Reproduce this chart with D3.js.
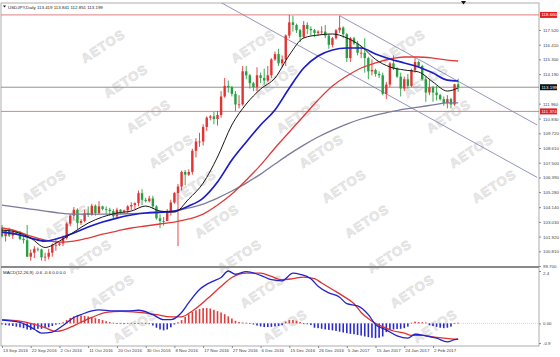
<!DOCTYPE html>
<html><head><meta charset="utf-8">
<script src="https://cdn.jsdelivr.net/npm/d3@7"></script>
<style>html,body{margin:0;padding:0;background:#fff;overflow:hidden}text{font-family:"Liberation Sans",Arial,sans-serif}</style>
</head><body><svg id="c" width="560" height="357"></svg>
<script>
// ---------- DATA ----------
const opens=[102.60,101.95,102.40,102.00,102.25,102.20,101.75,101.65,100.40,100.70,101.00,100.95,100.35,100.40,100.70,101.30,101.30,101.40,101.80,102.90,103.50,103.95,102.95,103.10,103.70,103.55,104.25,103.70,104.20,104.00,103.95,103.85,103.45,103.95,103.80,103.90,104.20,104.30,104.45,105.20,104.70,104.60,104.80,104.20,103.30,103.10,103.10,103.80,104.50,105.20,105.70,106.80,106.60,106.80,108.40,109.10,109.10,110.20,110.90,111.00,110.80,111.10,112.50,113.30,113.20,112.70,111.90,111.90,114.40,114.10,113.50,113.20,114.10,113.90,113.70,114.10,115.30,115.70,115.00,115.30,117.10,118.10,117.90,117.50,117.00,117.90,117.60,117.50,117.30,117.40,117.40,117.10,116.40,116.90,117.50,117.70,117.20,115.40,116.90,116.50,115.80,115.80,115.40,114.40,114.50,114.20,114.10,112.70,113.40,115.00,114.60,114.00,113.10,113.80,113.30,114.50,115.10,114.80,113.80,112.80,113.20,112.80,112.60,112.30,112.00,112.30,111.90,113.419];
const highs=[102.80,102.45,102.60,102.45,102.35,102.35,101.95,102.80,100.95,101.20,101.10,101.00,100.70,101.00,101.40,101.70,101.50,102.00,103.00,103.60,104.15,104.05,103.25,103.95,104.20,104.40,104.35,104.60,104.25,104.20,104.10,104.00,104.10,104.00,103.95,104.30,104.50,104.50,105.40,105.50,104.85,105.00,105.00,104.30,103.60,103.40,104.00,104.70,105.30,105.90,106.90,106.95,107.00,108.55,109.35,109.75,110.40,111.00,111.10,111.35,111.40,112.90,113.90,113.70,113.30,112.90,112.60,114.80,114.80,114.20,113.60,114.70,114.30,114.60,114.80,115.40,115.90,116.10,115.60,117.20,118.66,118.60,118.00,117.60,118.20,118.10,117.80,117.60,117.50,117.80,117.90,117.20,117.00,117.60,118.60,117.80,117.30,117.00,117.00,116.70,116.30,116.90,115.50,115.30,114.60,114.40,114.30,113.60,115.10,115.60,114.70,114.30,114.00,114.20,114.60,115.40,115.20,114.90,114.00,113.80,113.30,113.30,112.70,112.50,112.60,112.40,113.45,113.841];
const lows=[101.85,101.55,101.90,101.75,102.10,101.65,101.40,100.40,100.10,100.30,100.80,100.10,100.05,100.20,100.40,100.85,101.20,101.20,101.70,102.70,103.20,102.50,102.80,103.00,103.40,103.50,103.50,103.60,103.90,103.60,103.50,103.30,103.35,103.60,103.70,103.70,103.90,104.00,104.20,104.30,104.50,104.50,104.00,103.20,102.55,102.75,103.10,103.50,104.40,101.20,105.40,105.80,106.50,106.60,107.90,108.70,108.80,109.90,110.70,110.40,110.30,110.90,112.40,112.80,112.50,111.40,111.60,111.80,113.80,113.10,112.90,112.90,113.50,113.40,113.60,113.90,115.20,114.80,114.70,114.80,116.90,117.40,117.30,116.60,116.90,117.20,117.10,117.00,117.10,117.20,116.90,116.10,116.20,116.80,117.30,116.90,115.10,115.10,116.40,115.60,115.40,114.30,113.80,114.10,114.00,113.90,112.60,112.30,113.20,114.50,113.90,112.50,112.90,113.10,113.20,114.30,114.70,113.70,112.10,112.60,112.10,112.20,112.20,111.80,111.60,111.60,111.80,112.851];
const closes=[101.95,102.40,102.00,102.25,102.20,101.75,101.65,100.40,100.70,101.00,100.95,100.35,100.40,100.70,101.30,101.30,101.40,101.80,102.90,103.50,103.95,102.95,103.10,103.70,103.55,104.25,103.70,104.20,104.00,103.95,103.85,103.45,103.95,103.80,103.90,104.20,104.30,104.45,105.20,104.70,104.60,104.80,104.20,103.30,103.10,103.10,103.80,104.50,105.20,105.70,106.80,106.60,106.80,108.40,109.10,109.10,110.20,110.90,111.00,110.80,111.10,112.50,113.30,113.20,112.70,111.90,111.90,114.40,114.10,113.50,113.20,114.10,113.90,113.70,114.10,115.30,115.70,115.00,115.30,117.10,118.10,117.90,117.50,117.00,117.90,117.60,117.50,117.30,117.40,117.40,117.10,116.40,116.90,117.50,117.70,117.20,115.40,116.90,116.50,115.80,115.80,115.40,114.40,114.50,114.20,114.10,112.70,113.40,115.00,114.60,114.00,113.10,113.80,113.30,114.50,115.10,114.80,113.80,112.80,113.20,112.80,112.60,112.30,112.00,112.30,111.90,113.419,113.199];

// moving averages, read at these bar indices
const maIdx=[0,4,8,12,16,20,24,28,32,36,40,44,48,52,56,60,64,68,72,76,80,84,88,92,96,100,104,108,112,116,120,124,127];
const maFast=[102.41,102.26,101.81,101.10,101.58,102.26,102.94,103.40,103.70,103.85,104.23,103.85,103.77,104.76,105.96,107.93,110.35,111.93,113.06,113.89,115.63,116.92,117.14,117.22,116.92,116.30,115.30,114.73,114.50,114.35,113.59,112.91,113.14];
const maMid=[102.26,102.11,101.81,101.58,101.81,102.19,102.64,103.02,103.32,103.55,103.70,103.77,103.85,104.23,104.83,106.04,107.70,109.06,110.35,111.48,113.14,114.65,115.56,116.01,116.16,116.16,115.71,115.33,115.03,114.73,114.27,113.74,113.67];
const maSlow=[102.57,102.34,101.96,101.66,101.51,101.58,101.81,102.11,102.34,102.57,102.72,102.87,103.02,103.25,103.62,104.30,105.13,106.19,107.32,108.61,109.82,111.03,112.23,113.29,114.05,114.65,115.03,115.33,115.48,115.48,115.40,115.25,115.18];
const maLong=[104.30,104.15,104.00,103.85,103.70,103.62,103.62,103.62,103.62,103.66,103.70,103.74,103.85,104.08,104.38,104.83,105.36,105.96,106.64,107.40,108.15,108.83,109.44,109.96,110.42,110.80,111.10,111.33,111.55,111.70,111.86,112.01,112.01];

// MACD(12,26,9)
const macdIdx=[0,5,9,11,14,17,20,22,25,27,31,35,38,42,45,47,50,52,55,59,61,63,65,68,72,75,78,81,83,86,88,91,94,96,99,102,104,107,110,113,115,118,121,124,126,127];
const macdVals=[0.15,0.05,-0.27,-0.45,-0.4,-0.1,0.27,0.4,0.57,0.62,0.57,0.57,0.6,0.4,0.17,0.17,0.5,0.95,1.55,1.95,2.1,2.4,2.25,2.37,2.2,2.0,1.95,2.3,2.25,2.05,1.7,1.4,1.2,0.9,0.8,0.4,-0.05,-0.3,-0.57,-0.68,-0.5,-0.57,-0.68,-0.85,-0.75,-0.72];
const signalIdx=[0,5,9,12,15,18,22,25,29,33,38,43,47,50,53,57,61,64,68,72,75,78,81,84,87,89,92,95,98,100,103,106,109,112,114,117,120,123,126,127];
const signalVals=[0.17,0.1,-0.05,-0.2,-0.37,-0.25,0.05,0.27,0.5,0.55,0.5,0.4,0.3,0.3,0.57,1.1,1.7,2.1,2.3,2.3,2.15,2.0,2.05,2.12,2.05,1.85,1.55,1.25,0.9,0.5,0.1,-0.15,-0.35,-0.45,-0.55,-0.55,-0.62,-0.68,-0.72,-0.72];
const histVals=[-0.05,-0.08,-0.1,-0.12,-0.15,-0.18,-0.22,-0.28,-0.3,-0.28,-0.25,-0.25,-0.22,-0.18,-0.12,-0.06,-0.02,
0.05,0.15,0.25,0.32,0.38,0.36,0.34,0.32,0.28,0.24,0.2,0.15,0.1,0.06,0.03,
0.01,0.02,-0.01,0.02,0.03,0.01,0.02,0.03,0.02,-0.02,-0.1,-0.2,-0.28,-0.32,-0.28,-0.18,-0.05,
0.05,0.15,0.3,0.42,0.52,0.6,0.66,0.7,0.7,0.68,0.62,0.56,0.5,0.42,0.32,0.22,0.12,0.06,0.04,0.03,0.02,
-0.05,-0.1,-0.14,-0.17,-0.17,-0.16,-0.14,-0.12,-0.08,0.08,0.15,0.16,0.12,0.06,-0.02,-0.04,-0.08,
-0.2,-0.22,-0.25,-0.28,-0.3,-0.32,-0.35,-0.38,-0.42,-0.45,-0.48,-0.5,-0.53,-0.56,-0.6,-0.63,-0.66,-0.68,-0.66,
-0.6,-0.4,-0.3,-0.28,-0.26,-0.25,-0.22,-0.15,
0.03,0.08,0.06,0.05,0.04,-0.08,-0.12,-0.16,-0.2,-0.22,-0.2,-0.15,0.02,0.03];

// axis ticks
const priceTicks=[117.520,116.410,115.300,114.190,111.960,110.830,109.720,108.610,107.500,106.390,105.280,104.140,103.030,101.920,100.810,99.700];
const dateIdx=[0,8,16,24,32,40,48,56,64,72,80,88,96,104,112,120];
const dateLabels=["13 Sep 2016","22 Sep 2016","2 Oct 2016","11 Oct 2016","20 Oct 2016","30 Oct 2016","8 Nov 2016","17 Nov 2016","27 Nov 2016","6 Dec 2016","15 Dec 2016","26 Dec 2016","5 Jan 2017","15 Jan 2017","24 Jan 2017","2 Feb 2017"];
const macdTicks=[2.4,0,-0.9];
const macdTickLabels=["2.4","0.00","-0.9"];
// horizontal levels
const redLevels=[118.660,111.374];
const bidPrice=113.199;
// channel lines (bar index, price)
const chanUpperIdx=[94,149], chanUpperP=[118.60,110.35];
const chanLowerIdx=[59,149], chanLowerP=[119.89,106.39];
const header="USDJPY,Daily  113.419 113.841 112.851 113.199";
const macdHeader="MACD(12,26,9) -0.6 -0.6 0.0 0.0";

// ---------- DRAW ----------
const svg=d3.select('#c');
const x=d3.scaleLinear().domain([0,120]).range([2,433]);
const y=d3.scaleLinear().domain([99.70,117.52]).range([266,30]);
const ym=d3.scaleLinear().domain([-0.9,2.4]).range([343,271]);
const FS=4.4;

const defs=svg.append('defs');
defs.append('clipPath').attr('id','cm').append('rect').attr('x',1).attr('y',3).attr('width',538).attr('height',263);
defs.append('clipPath').attr('id','cd').append('rect').attr('x',1).attr('y',268).attr('width',538).attr('height',78);

// watermarks (only whole ones inside the plot)
const wm=svg.append('g');
for(let r=-1;r<11;r++){
  for(let c=-1;c<5;c++){
    const yy=15+35*r, xx=-77+0.65*yy+150*c;
    if(xx<28||xx>510||yy<24||yy>336) continue;
    wm.append('text').attr('x',xx).attr('y',yy).attr('text-anchor','middle')
      .attr('transform',`rotate(-33,${xx},${yy})`)
      .attr('font-size',13).attr('font-weight','bold').attr('letter-spacing',1)
      .attr('fill','#ebebeb').attr('stroke','#dcdcdc').attr('stroke-width',0.6).text('AETOS');
  }
}

// frame
svg.append('rect').attr('x',1).attr('y',3).attr('width',538).attr('height',343).attr('fill','none').attr('stroke','#9a9a9a').attr('stroke-width',0.8);
svg.append('line').attr('x1',1).attr('x2',539).attr('y1',267).attr('y2',267).attr('stroke','#8a8a8a').attr('stroke-width',2);

const gm=svg.append('g').attr('clip-path','url(#cm)');

// channel lines
[[chanUpperIdx,chanUpperP],[chanLowerIdx,chanLowerP]].forEach(([ii,pp])=>{
  gm.append('line').attr('x1',x(ii[0])).attr('y1',y(pp[0])).attr('x2',x(ii[1])).attr('y2',y(pp[1]))
    .attr('stroke','#8888b8').attr('stroke-width',0.9);
});
// levels
redLevels.forEach(p=>gm.append('line').attr('x1',1).attr('x2',539).attr('y1',y(p)).attr('y2',y(p)).attr('stroke','#e07070').attr('stroke-width',0.9));
gm.append('line').attr('x1',1).attr('x2',539).attr('y1',y(bidPrice)).attr('y2',y(bidPrice)).attr('stroke','#777').attr('stroke-width',0.8);

// candles
const bars=closes.map((c,i)=>({i,o:opens[i],h:highs[i],l:lows[i],c}));
const col=d=>d.c>=d.o?'#e23434':'#25a040';
gm.selectAll('line.w').data(bars).enter().append('line').attr('class','w')
  .attr('x1',d=>x(d.i)).attr('x2',d=>x(d.i)).attr('y1',d=>y(d.h)).attr('y2',d=>y(d.l))
  .attr('stroke',col).attr('stroke-width',0.9);
gm.selectAll('rect.b').data(bars).enter().append('rect').attr('class','b')
  .attr('x',d=>x(d.i)-1.2).attr('width',2.4)
  .attr('y',d=>y(Math.max(d.o,d.c))).attr('height',d=>Math.max(0.8,Math.abs(y(d.o)-y(d.c))))
  .attr('fill',col);

// moving averages
const maLine=d3.line().x(d=>x(d[0])).y(d=>y(d[1])).curve(d3.curveMonotoneX);
[[maLong,'#7a7a9c',1.3],[maSlow,'#e03a3a',1.3],[maMid,'#1c1cc8',1.7],[maFast,'#161616',1.0]].forEach(([arr,c,w])=>{
  gm.append('path').attr('d',maLine(maIdx.map((k,j)=>[k,arr[j]]))).attr('fill','none').attr('stroke',c).attr('stroke-width',w);
});

// MACD panel
const gd=svg.append('g').attr('clip-path','url(#cd)');
gd.append('line').attr('x1',1).attr('x2',539).attr('y1',ym(0)).attr('y2',ym(0)).attr('stroke','#c8c8c8').attr('stroke-dasharray','1,1').attr('stroke-width',0.7);
gd.selectAll('rect.h').data(histVals).enter().append('rect').attr('class','h')
  .attr('x',(d,i)=>x(i)-0.8).attr('width',1.6)
  .attr('y',d=>Math.min(ym(0),ym(d))).attr('height',d=>Math.max(0.8,Math.abs(ym(d)-ym(0))))
  .attr('fill',d=>d>=0?'#e03a3a':'#2a2ad0');
const mLine=d3.line().x(d=>x(d[0])).y(d=>ym(d[1])).curve(d3.curveMonotoneX);
gd.append('path').attr('d',mLine(signalIdx.map((k,j)=>[k,signalVals[j]]))).attr('fill','none').attr('stroke','#e03030').attr('stroke-width',1.3);
gd.append('path').attr('d',mLine(macdIdx.map((k,j)=>[k,macdVals[j]]))).attr('fill','none').attr('stroke','#2323cc').attr('stroke-width',1.3);

// axes
const ax=svg.append('g').attr('transform','translate(539,0)')
  .call(d3.axisRight(y).tickValues(priceTicks).tickFormat(d3.format('.3f')).tickSize(2).tickPadding(2));
const axm=svg.append('g').attr('transform','translate(539,0)')
  .call(d3.axisRight(ym).tickValues(macdTicks).tickFormat((d,i)=>macdTickLabels[i]).tickSize(2).tickPadding(2));
const axb=svg.append('g').attr('transform','translate(0,346)')
  .call(d3.axisBottom(x).tickValues(dateIdx).tickFormat((d,i)=>dateLabels[i]).tickSize(2).tickPadding(1));
[ax,axm,axb].forEach(g=>{
  g.select('.domain').remove();
  g.selectAll('line').attr('stroke','#888');
  g.selectAll('text').attr('font-size',FS).attr('fill','#444').attr('font-family','"Liberation Sans",Arial,sans-serif');
});
axb.selectAll('text').attr('text-anchor','start').attr('dx',0.5);
axm.selectAll('.tick').filter(d=>d===2.4).select('text').attr('dy','0.9em');

// price flags
function flag(p,bg,txt){
  const g=svg.append('g');
  g.append('rect').attr('x',540).attr('y',y(p)-3).attr('width',17).attr('height',6).attr('fill',bg);
  g.append('text').attr('x',541.5).attr('y',y(p)).attr('dy','0.35em').attr('font-size',FS).attr('fill','#fff').text(txt);
}
flag(redLevels[0],'#e02020',d3.format('.3f')(redLevels[0]));
flag(redLevels[1],'#e02020',d3.format('.3f')(redLevels[1]));
flag(bidPrice,'#111',d3.format('.3f')(bidPrice));

// headers
svg.append('path').attr('d','M3,5.5 L6,5.5 L4.5,7.5 Z').attr('fill','#111');
svg.append('text').attr('x',8).attr('y',8.6).attr('font-size',FS).attr('fill','#222').text(header);
svg.append('text').attr('x',3).attr('y',274).attr('font-size',FS).attr('fill','#222').text(macdHeader);
// chart shift marker
svg.append('path').attr('d','M461,1 L466,1 L463.5,4.5 Z').attr('fill','#111');
</script></body></html>
